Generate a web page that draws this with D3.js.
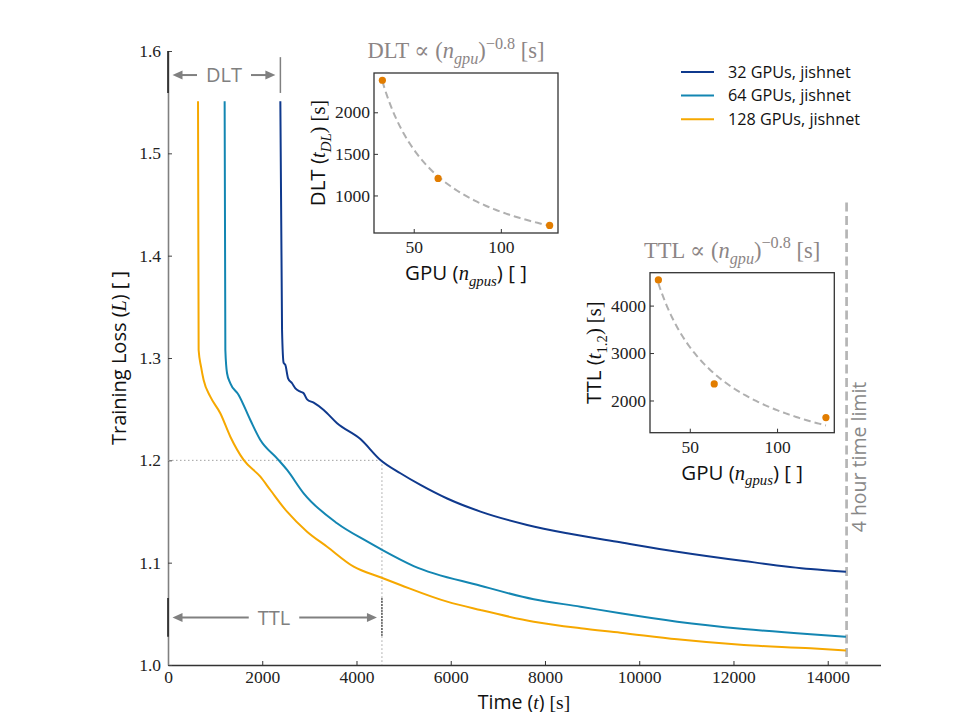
<!DOCTYPE html>
<html>
<head>
<meta charset="utf-8">
<script src="https://cdn.jsdelivr.net/npm/d3@7"></script>
<style>
  body { margin: 0; background: #fff; }
</style>
</head>
<body>
<svg id="chart" width="956" height="712"></svg>
<script>
// ---- data ----
const seriesNames = ["32 GPUs, jishnet", "64 GPUs, jishnet", "128 GPUs, jishnet"];
const gpuCounts = [32, 64, 128];

const time32 = [2384, 2420, 2454, 2490, 2548, 2633, 2703, 2809, 2879, 2951, 3091, 3304, 3588, 4083, 4507, 4932, 5357, 5924, 6631, 7622, 8471, 9597, 10807, 12221, 13637, 14386];
const loss32 = [1.551, 1.3275, 1.2952, 1.2932, 1.2802, 1.2753, 1.2704, 1.2671, 1.2655, 1.2596, 1.2563, 1.2492, 1.2363, 1.2208, 1.2004, 1.1874, 1.1760, 1.1627, 1.1499, 1.1369, 1.1287, 1.1199, 1.1107, 1.1016, 1.0938, 1.0912];

const time64 = [1202, 1217, 1253, 1323, 1499, 1747, 1960, 2314, 2527, 2879, 3588, 4225, 4507, 5214, 6631, 7762, 8754, 9603, 10807, 12221, 13637, 14386];
const loss64 = [1.551, 1.3078, 1.2851, 1.2753, 1.2639, 1.2394, 1.2199, 1.2020, 1.1906, 1.1678, 1.1385, 1.1207, 1.1134, 1.0967, 1.0775, 1.0642, 1.0570, 1.0505, 1.0423, 1.0352, 1.0300, 1.0277];

const time128 = [637, 650, 701, 756, 898, 1110, 1323, 1605, 1960, 2172, 2527, 2951, 3376, 3941, 4507, 4932, 5924, 6631, 7762, 8754, 9603, 10807, 12221, 13637, 14386];
const loss128 = [1.551, 1.3078, 1.2915, 1.2785, 1.2622, 1.2460, 1.2231, 1.2004, 1.1840, 1.1710, 1.1498, 1.1303, 1.1156, 1.0961, 1.0857, 1.0782, 1.0619, 1.0537, 1.0423, 1.0359, 1.0316, 1.0251, 1.0195, 1.0163, 1.0142];

const dltSeconds = [2385, 1205, 640];   // time until the loss starts to drop
const ttlSeconds = [4540, 2350, 1640];  // time until loss reaches the threshold
const dltExponent = -0.95;
const ttlExponent = -0.8;

const xTicks = [0, 2000, 4000, 6000, 8000, 10000, 12000, 14000];
const yTicks = [1.0, 1.1, 1.2, 1.3, 1.4, 1.5, 1.6];
const dltTicksY = [1000, 1500, 2000];
const ttlTicksY = [2000, 3000, 4000];
const gpuTicks = [50, 100];

const lossThreshold = 1.2;
const timeLimit = 14400;

// ---- style ----
const SANS = "'Open Sans', Lato, sans-serif";
const SERIF = "'Liberation Serif', 'DejaVu Serif', serif";
const colors = ["#0f398d", "#1386b2", "#f6a800"];
const dotColor = "#e27d00";
const annoGray = "#808080";
const titleGray = "#8c8585";

const svg = d3.select("#chart");

// Mixed text: plain sans, roman / italic serif, sub- and superscripts
function rich(sel, parts, size) {
  let cur = 0;
  parts.forEach(p => {
    const small = p.sub || p.sup;
    const shift = p.sub ? size * 0.28 : p.sup ? -size * 0.42 : 0;
    sel.append("tspan")
      .attr("dy", shift - cur)
      .attr("font-family", p.f === "sans" ? SANS : SERIF)
      .attr("font-style", p.i ? "italic" : "normal")
      .attr("font-size", small ? size * 0.72 : size)
      .text(p.t);
    cur = shift;
  });
  return sel;
}

// ---- main axes ----
const x = d3.scaleLinear().domain([0, timeLimit * 1.05]).range([168, 880.5]);
const y = d3.scaleLinear().domain([1.0, 1.6]).range([665, 51]);

const gx = svg.append("g").attr("transform", `translate(0,${y(1.0)})`)
  .call(d3.axisBottom(x).tickValues(xTicks).tickFormat(d3.format("d"))
    .tickSizeInner(-4).tickSizeOuter(0).tickPadding(6));
gx.select(".domain").attr("stroke", "#333").attr("stroke-width", 1.3);
gx.selectAll(".tick line").attr("stroke", "#333");
gx.selectAll(".tick text").attr("font-family", SERIF).attr("font-size", 17.5).attr("fill", "#222");

const gy = svg.append("g").attr("transform", `translate(${x(0)},0)`)
  .call(d3.axisLeft(y).tickValues(yTicks).tickFormat(d3.format(".1f"))
    .tickSizeInner(-4).tickSizeOuter(0).tickPadding(7));
gy.select(".domain").attr("stroke", "#808080").attr("stroke-width", 1.6);
gy.selectAll(".tick line").attr("stroke", "#444");
gy.selectAll(".tick text").attr("font-family", SERIF).attr("font-size", 17.5).attr("fill", "#222");

// axis titles
rich(svg.append("text").attr("transform", "translate(126,358) rotate(-90)")
  .attr("text-anchor", "middle").attr("fill", "#111"),
  [{ t: "Training Loss (", f: "sans" }, { t: "L", i: true }, { t: ") [ ]", f: "sans" }], 20);

rich(svg.append("text").attr("x", 524).attr("y", 709)
  .attr("text-anchor", "middle").attr("fill", "#111"),
  [{ t: "Time (", f: "sans" }, { t: "t", i: true }, { t: ") ", f: "sans" }, { t: "[s]" }], 19.5);

// threshold guides
const guides = svg.append("g").attr("stroke", "#a0a0a0").attr("stroke-width", 1)
  .attr("stroke-dasharray", "1.5,2.5").attr("fill", "none");
guides.append("line").attr("x1", x(0)).attr("x2", x(ttlSeconds[0]))
  .attr("y1", y(lossThreshold)).attr("y2", y(lossThreshold));
guides.append("line").attr("x1", x(ttlSeconds[0])).attr("x2", x(ttlSeconds[0]))
  .attr("y1", y(lossThreshold)).attr("y2", y(1.0));

// 4 hour limit
svg.append("line").attr("x1", x(timeLimit)).attr("x2", x(timeLimit))
  .attr("y1", y(1.452)).attr("y2", y(1.0))
  .attr("stroke", "#b5b5b5").attr("stroke-width", 2.7).attr("stroke-dasharray", "9,4.5");
svg.append("text").attr("transform", `translate(${x(timeLimit) + 19.5},457) rotate(-90)`)
  .attr("text-anchor", "middle").attr("font-family", SANS).attr("font-size", 19.5)
  .attr("fill", "#888").text("4 hour time limit");

// loss curves
const curves = [
  { t: time32, l: loss32 },
  { t: time64, l: loss64 },
  { t: time128, l: loss128 }
];
const line = d3.line().x(d => x(d[0])).y(d => y(d[1])).curve(d3.curveMonotoneX);
curves.forEach((c, i) => {
  svg.append("path").datum(d3.zip(c.t, c.l)).attr("d", line)
    .attr("fill", "none").attr("stroke", colors[i]).attr("stroke-width", 2)
    .attr("stroke-linejoin", "round");
});

// bracket annotations (DLT at top, TTL at bottom)
function arrowHead(g, tipX, yy, dir) {
  const len = 10, half = 4.5;
  g.append("path")
    .attr("d", `M${tipX},${yy} L${tipX - dir * len},${yy - half} L${tipX - dir * len},${yy + half} Z`)
    .attr("fill", annoGray);
}
function bracket(label, tEnd, lossY, textX, endMarker) {
  const g = svg.append("g");
  const yy = y(lossY);
  const x0 = x(0) + 4.5, x1 = x(tEnd) - 5;
  const txt = g.append("text").attr("x", textX).attr("y", yy).attr("dy", "0.36em")
    .attr("text-anchor", "middle").attr("font-family", SANS).attr("font-size", 20)
    .attr("fill", annoGray).text(label);
  const w = txt.node().getComputedTextLength();
  const gap = 9;
  g.append("line").attr("x1", x0 + 8).attr("x2", textX - w / 2 - gap)
    .attr("y1", yy).attr("y2", yy).attr("stroke", annoGray).attr("stroke-width", 2);
  g.append("line").attr("x1", textX + w / 2 + gap).attr("x2", x1 - 8)
    .attr("y1", yy).attr("y2", yy).attr("stroke", annoGray).attr("stroke-width", 2);
  arrowHead(g, x0, yy, -1);
  arrowHead(g, x1, yy, 1);
  endMarker(g);
}
bracket("DLT", dltSeconds[0], 1.5765, 224, g => {
  g.append("line").attr("x1", x(0)).attr("x2", x(0)).attr("y1", y(1.6)).attr("y2", y(1.559))
    .attr("stroke", "#222").attr("stroke-width", 1.6);
  g.append("line").attr("x1", x(dltSeconds[0])).attr("x2", x(dltSeconds[0]))
    .attr("y1", y(1.594)).attr("y2", y(1.559)).attr("stroke", annoGray).attr("stroke-width", 1.5);
});
bracket("TTL", ttlSeconds[0], 1.0463, 274, g => {
  g.append("line").attr("x1", x(0)).attr("x2", x(0)).attr("y1", y(1.0655)).attr("y2", y(1.0275))
    .attr("stroke", "#222").attr("stroke-width", 1.6);
  g.append("line").attr("x1", x(ttlSeconds[0])).attr("x2", x(ttlSeconds[0]))
    .attr("y1", y(1.0655)).attr("y2", y(1.0275)).attr("stroke", "#111").attr("stroke-width", 1)
    .attr("stroke-dasharray", "2,1");
});

// legend
const legend = svg.append("g");
seriesNames.forEach((name, i) => {
  const ly = 72 + i * 23.6;
  legend.append("line").attr("x1", 681).attr("x2", 714).attr("y1", ly).attr("y2", ly)
    .attr("stroke", colors[i]).attr("stroke-width", 2);
  legend.append("text").attr("x", 728).attr("y", ly).attr("dy", "0.35em")
    .attr("font-family", SANS).attr("font-size", 16.2).attr("fill", "#111").text(name);
});

// ---- insets: power-law scaling with GPU count ----
function inset(o) {
  const values = o.values;
  // least squares amplitude for a fixed exponent
  const f = gpuCounts.map(n => Math.pow(n, o.exponent));
  const amp = d3.sum(values, (v, i) => v * f[i]) / d3.sum(f, d => d * d);
  const fitN = d3.range(gpuCounts[0], gpuCounts[2] + 0.01, 1);
  const fit = fitN.map(n => [n, amp * Math.pow(n, o.exponent)]);

  const nSpan = gpuCounts[2] - gpuCounts[0];
  const xs = d3.scaleLinear().domain([gpuCounts[0] - 0.05 * nSpan, gpuCounts[2] + 0.05 * nSpan])
    .range([o.left, o.right]);
  const all = values.concat(fit.map(d => d[1]));
  const [lo, hi] = d3.extent(all);
  const pad = 0.05 * (hi - lo);
  const ys = d3.scaleLinear().domain([lo - pad, hi + pad]).range([o.bottom, o.top]);

  const g = svg.append("g");
  g.append("rect").attr("x", o.left).attr("y", o.top)
    .attr("width", o.right - o.left).attr("height", o.bottom - o.top)
    .attr("fill", "#fff").attr("stroke", "#333").attr("stroke-width", 1.3);

  const ax = g.append("g").attr("transform", `translate(0,${o.bottom})`)
    .call(d3.axisBottom(xs).tickValues(gpuTicks).tickSizeInner(-4).tickSizeOuter(0).tickPadding(8));
  const ay = g.append("g").attr("transform", `translate(${o.left},0)`)
    .call(d3.axisLeft(ys).tickValues(o.yTicks).tickFormat(d3.format("d"))
      .tickSizeInner(-4).tickSizeOuter(0).tickPadding(4));
  [ax, ay].forEach(a => {
    a.select(".domain").remove();
    a.selectAll(".tick line").attr("stroke", "#333");
    a.selectAll(".tick text").attr("font-family", SERIF).attr("font-size", 17.5).attr("fill", "#222");
  });

  g.append("path").datum(fit)
    .attr("d", d3.line().x(d => xs(d[0])).y(d => ys(d[1])))
    .attr("fill", "none").attr("stroke", "#b0b0b0").attr("stroke-width", 2)
    .attr("stroke-dasharray", "7,4");
  g.selectAll("circle").data(values).join("circle")
    .attr("cx", (d, i) => xs(gpuCounts[i])).attr("cy", d => ys(d))
    .attr("r", 3.6).attr("fill", dotColor);

  const cx = (o.left + o.right) / 2;
  rich(g.append("text").attr("x", cx - 10).attr("y", o.top - 15).attr("text-anchor", "middle")
    .attr("fill", titleGray),
    [{ t: o.name + " \u221D (" }, { t: "n", i: true }, { t: "gpu", i: true, sub: true },
     { t: ")" }, { t: "\u22120.8", sup: true }, { t: " [s]" }], 22.5);

  rich(g.append("text").attr("x", cx).attr("y", o.bottom + 47).attr("text-anchor", "middle")
    .attr("fill", "#111"),
    [{ t: "GPU (", f: "sans" }, { t: "n", i: true }, { t: "gpus", i: true, sub: true },
     { t: ") [ ]", f: "sans" }], 20.5);

  rich(g.append("text").attr("transform", `translate(${o.ylabX},${(o.top + o.bottom) / 2}) rotate(-90)`)
    .attr("text-anchor", "middle").attr("fill", "#111"),
    [{ t: o.name + " (", f: "sans" }, { t: "t", i: true }, o.sub, { t: ") [s]" }], 20.5);
}

inset({
  name: "DLT", values: dltSeconds, exponent: dltExponent, yTicks: dltTicksY,
  left: 374, right: 558, top: 73, bottom: 233, ylabX: 325,
  sub: { t: "DL", i: true, sub: true }
});
inset({
  name: "TTL", values: ttlSeconds, exponent: ttlExponent, yTicks: ttlTicksY,
  left: 650, right: 834.3, top: 272.7, bottom: 432.7, ylabX: 601,
  sub: { t: "1.2", sub: true }
});
</script>
</body>
</html>
